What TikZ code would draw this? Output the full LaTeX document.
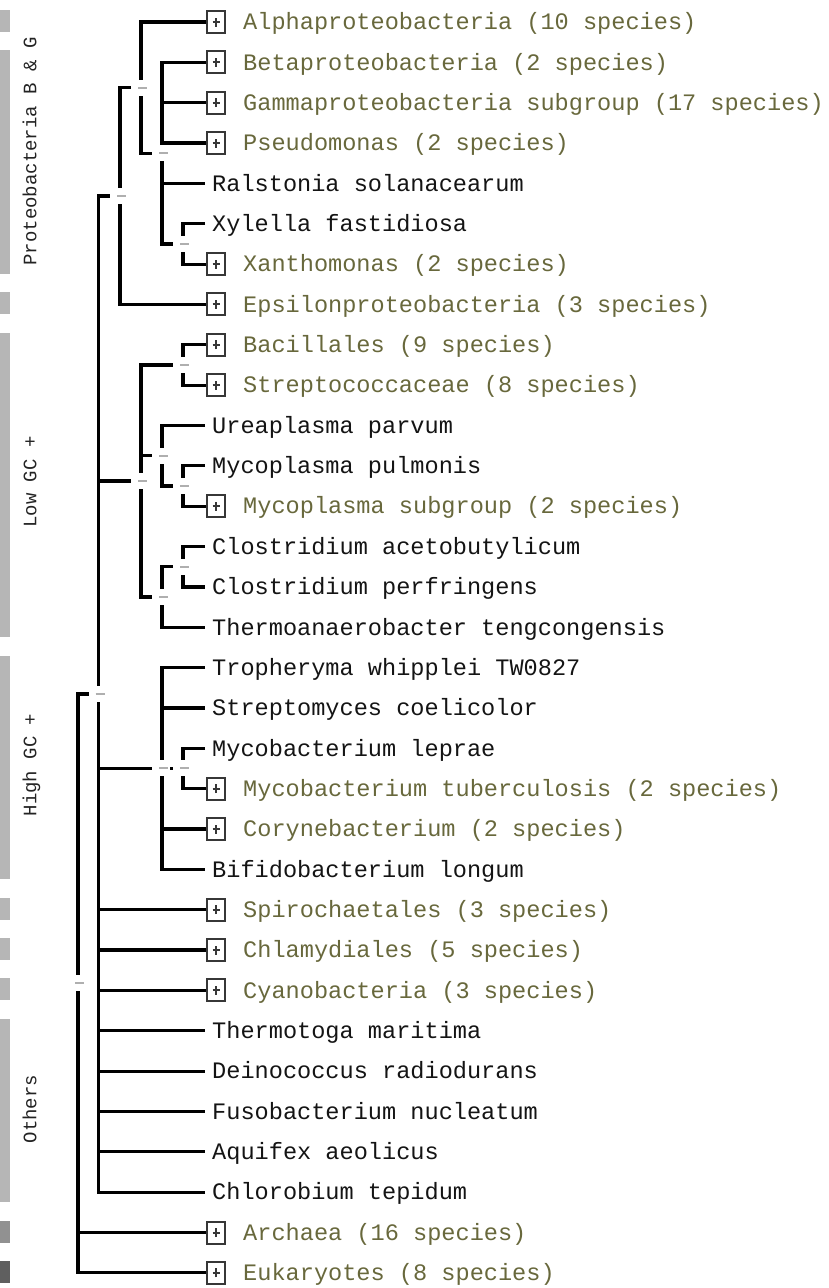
\documentclass[tikz,border=0pt]{standalone}
\usepackage{fontspec}
\newfontfamily\treemono{Liberation Mono}
\definecolor{olivecol}{RGB}{104,104,60}
\definecolor{leafcol}{RGB}{20,20,20}
\definecolor{boxcol}{RGB}{55,55,55}
\definecolor{barlight}{RGB}{182,182,182}
\definecolor{barmid}{RGB}{145,145,145}
\definecolor{bardark}{RGB}{95,95,95}
\definecolor{dashcol}{RGB}{175,175,175}
\definecolor{sidetext}{RGB}{35,35,35}
\begin{document}
\begin{tikzpicture}[x=1pt,y=-1pt,
  edge/.style={line width=3.2pt, black},
  leaf/.style={anchor=west, inner xsep=7pt, inner ysep=0pt, text height=15.55pt, text depth=0pt,
    font={\treemono\fontsize{23.6pt}{28pt}\selectfont}, text=leafcol},
  grp/.style={anchor=west, inner xsep=17pt, inner ysep=0pt, text height=15.55pt, text depth=0pt,
    font={\treemono\fontsize{23.6pt}{28pt}\selectfont}, text=olivecol},
  pbox/.style={anchor=west, draw=boxcol, line width=2pt, fill=white, inner sep=0pt,
    minimum width=18pt, minimum height=22pt,
    path picture={
      \draw[line width=2pt, boxcol] ([xshift=-3.5pt]path picture bounding box.center) -- ([xshift=3.5pt]path picture bounding box.center);
      \draw[line width=2pt, boxcol] ([yshift=-4.5pt]path picture bounding box.center) -- ([yshift=4.5pt]path picture bounding box.center);}},
  sidelabel/.style={rotate=90, inner sep=0pt, text height=12.5pt, text depth=0pt,
    font={\treemono\fontsize{19pt}{22pt}\selectfont}, text=sidetext},
  nodedash/.style={line width=2pt, dashcol},
  coverbox/.style={fill=white, draw=none}
]
\useasboundingbox (0,0) rectangle (829,1288);

% ---------- side bars ----------
\fill[barlight] (0,10) rectangle (10,32);
\fill[barlight] (0,50.35) rectangle (10,274.1);
\fill[barlight] (0,292.45) rectangle (10,314.45);
\fill[barlight] (0,332.8) rectangle (10,637.25);
\fill[barlight] (0,655.6) rectangle (10,879.35);
\fill[barlight] (0,897.7) rectangle (10,919.7);
\fill[barlight] (0,938.05) rectangle (10,960.05);
\fill[barlight] (0,978.4) rectangle (10,1000.4);
\fill[barlight] (0,1018.75) rectangle (10,1202.15);
\fill[barmid] (0,1220.5) rectangle (10,1242.5);
\fill[bardark] (0,1260.85) rectangle (10,1282.85);

\node[sidelabel] (lab1) at (30,151.5) {Proteobacteria B \& G};
\node[sidelabel] (lab2) at (30,482) {Low GC +};
\node[sidelabel] (lab3) at (30,765) {High GC +};
\node[sidelabel] (lab4) at (30,1109) {Others};

% ---------- leaves ----------
\node[pbox] (b1) at (206,22.00) {};  \node[grp] (t1) at (b1.east) {Alphaproteobacteria (10 species)};
\node[pbox] (b2) at (206,62.35) {};  \node[grp] (t2) at (b2.east) {Betaproteobacteria (2 species)};
\node[pbox] (b3) at (206,102.70) {}; \node[grp] (t3) at (b3.east) {Gammaproteobacteria subgroup (17 species)};
\node[pbox] (b4) at (206,143.05) {}; \node[grp] (t4) at (b4.east) {Pseudomonas (2 species)};
\node[leaf] (n5) at (205,183.40) {Ralstonia solanacearum};
\node[leaf] (n6) at (205,223.75) {Xylella fastidiosa};
\node[pbox] (b7) at (206,264.10) {}; \node[grp] (t7) at (b7.east) {Xanthomonas (2 species)};
\node[pbox] (b8) at (206,304.45) {}; \node[grp] (t8) at (b8.east) {Epsilonproteobacteria (3 species)};
\node[pbox] (b9) at (206,344.80) {}; \node[grp] (t9) at (b9.east) {Bacillales (9 species)};
\node[pbox] (b10) at (206,385.15) {}; \node[grp] (t10) at (b10.east) {Streptococcaceae (8 species)};
\node[leaf] (n11) at (205,425.50) {Ureaplasma parvum};
\node[leaf] (n12) at (205,465.85) {Mycoplasma pulmonis};
\node[pbox] (b13) at (206,506.20) {}; \node[grp] (t13) at (b13.east) {Mycoplasma subgroup (2 species)};
\node[leaf] (n14) at (205,546.55) {Clostridium acetobutylicum};
\node[leaf] (n15) at (205,586.90) {Clostridium perfringens};
\node[leaf] (n16) at (205,627.25) {Thermoanaerobacter tengcongensis};
\node[leaf] (n17) at (205,667.60) {Tropheryma whipplei TW0827};
\node[leaf] (n18) at (205,707.95) {Streptomyces coelicolor};
\node[leaf] (n19) at (205,748.30) {Mycobacterium leprae};
\node[pbox] (b20) at (206,788.65) {}; \node[grp] (t20) at (b20.east) {Mycobacterium tuberculosis (2 species)};
\node[pbox] (b21) at (206,829.00) {}; \node[grp] (t21) at (b21.east) {Corynebacterium (2 species)};
\node[leaf] (n22) at (205,869.35) {Bifidobacterium longum};
\node[pbox] (b23) at (206,909.70) {}; \node[grp] (t23) at (b23.east) {Spirochaetales (3 species)};
\node[pbox] (b24) at (206,950.05) {}; \node[grp] (t24) at (b24.east) {Chlamydiales (5 species)};
\node[pbox] (b25) at (206,990.40) {}; \node[grp] (t25) at (b25.east) {Cyanobacteria (3 species)};
\node[leaf] (n26) at (205,1030.75) {Thermotoga maritima};
\node[leaf] (n27) at (205,1071.10) {Deinococcus radiodurans};
\node[leaf] (n28) at (205,1111.45) {Fusobacterium nucleatum};
\node[leaf] (n29) at (205,1151.80) {Aquifex aeolicus};
\node[leaf] (n30) at (205,1192.15) {Chlorobium tepidum};
\node[pbox] (b31) at (206,1232.50) {}; \node[grp] (t31) at (b31.east) {Archaea (16 species)};
\node[pbox] (b32) at (206,1272.85) {}; \node[grp] (t32) at (b32.east) {Eukaryotes (8 species)};

% ---------- internal nodes ----------
\coordinate (R)  at (78,983.46);
\coordinate (B)  at (98.5,694.07);
\coordinate (P)  at (120,196.0);
\coordinate (AG) at (141,87.55);
\coordinate (G)  at (162,153.1);
\coordinate (X)  at (183,243.93);
\coordinate (L)  at (141,480.98);
\coordinate (BS) at (183,364.98);
\coordinate (UM) at (162,455.78);
\coordinate (M)  at (183,486.03);
\coordinate (C)  at (162,596.99);
\coordinate (CC) at (183,566.73);
\coordinate (H)  at (162,768.48);
\coordinate (MM) at (183,768.48);

% ---------- connectors ----------
\draw[edge] (n6.west) -- (X |- n6) -- (X |- b7) -- (b7.west);
\draw[edge] (b2.west) -- (G |- b2) -- (G |- X) -- (X);
\draw[edge] (G |- b3) -- (b3.west);
\draw[edge] (G |- b4) -- (b4.west);
\draw[edge] (G |- n5) -- (n5.west);
\draw[edge] (b1.west) -- (AG |- b1) -- (AG |- G) -- (G);
\draw[edge] (AG) -- (P |- AG) -- (P |- b8) -- (b8.west);

\draw[edge] (b9.west) -- (BS |- b9) -- (BS |- b10) -- (b10.west);
\draw[edge] (n12.west) -- (M |- n12) -- (M |- b13) -- (b13.west);
\draw[edge] (n11.west) -- (UM |- n11) -- (UM |- M) -- (M);
\draw[edge] (n14.west) -- (CC |- n14) -- (CC |- n15) -- (n15.west);
\draw[edge] (CC) -- (C |- CC) -- (C |- n16) -- (n16.west);
\draw[edge] (BS) -- (L |- BS) -- (L |- C) -- (C);
\draw[edge] (L |- UM) -- (UM);

\draw[edge] (n19.west) -- (MM |- n19) -- (MM |- b20) -- (b20.west);
\draw[edge] (n17.west) -- (H |- n17) -- (H |- n22) -- (n22.west);
\draw[edge] (H |- n18) -- (n18.west);
\draw[edge] (H) -- (MM);
\draw[edge] (H |- b21) -- (b21.west);

\draw[edge] (P) -- (B |- P) -- (B |- n30) -- (n30.west);
\draw[edge] (B |- L) -- (L);
\draw[edge] (B |- H) -- (H);
\draw[edge] (B |- b23) -- (b23.west);
\draw[edge] (B |- b24) -- (b24.west);
\draw[edge] (B |- b25) -- (b25.west);
\draw[edge] (B |- n26) -- (n26.west);
\draw[edge] (B |- n27) -- (n27.west);
\draw[edge] (B |- n28) -- (n28.west);
\draw[edge] (B |- n29) -- (n29.west);

\draw[edge] (B) -- (R |- B) -- (R |- b32) -- (b32.west);
\draw[edge] (R |- b31) -- (b31.west);

% ---------- node markers ----------
\foreach \n in {R,B,P,AG,G,X,L,BS,UM,M,C,CC,H,MM}{
  \fill[coverbox] ([xshift=-10pt,yshift=-8pt]\n) rectangle ([xshift=8pt,yshift=8pt]\n);
  \draw[nodedash] ([xshift=-3pt]\n) -- ([xshift=6pt]\n);
}
\end{tikzpicture}
\end{document}
